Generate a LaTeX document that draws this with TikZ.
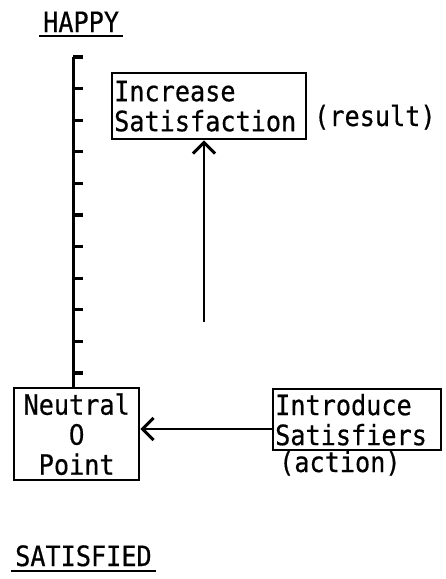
\documentclass[tikz,border=0pt]{standalone}
\usepackage{fontspec}
\newfontfamily\typer[FakeStretch=0.9, FakeBold=0.5]{DejaVu Sans Mono}
\newfontfamily\digit[FakeStretch=0.9, FakeBold=0.5]{DejaVu Sans}
\usetikzlibrary{arrows.meta,positioning}

\begin{document}
\begin{tikzpicture}[
    x=1pt, y=-1pt,
    every node/.style={font=\typer\fontsize{28}{30}\selectfont, inner sep=4pt},
    box/.style={draw, line width=2.4pt, inner xsep=2pt, inner ysep=1pt},
    lbl/.style={anchor=base west},
    uline/.style={line width=2pt},
    axis/.style={line width=3pt},
    tick/.style={line width=3.2pt},
    flow/.style={-{Straight Barb[length=11pt, width=22pt, line width=3pt]}, line width=2.6pt}
]
\useasboundingbox (0,0) rectangle (446,579);
\node[lbl] (happy) at (39,32) {HAPPY};
\node[box, anchor=north west, minimum width=194pt, minimum height=66pt, text width=190pt, align=left] (inc) at (111,72) {Increase\\Satisfaction};
\node[lbl] (res) at (310,126) {(result)};
\node[box, anchor=north west, minimum width=125pt, minimum height=92pt, text width=121pt, align=center] (neut) at (13,387) {Neutral\\{\digit 0}\\Point};
\node[box, anchor=north west, minimum width=168pt, minimum height=61pt, text width=164pt, align=left] (intro) at (272,388) {Introduce\\Satisfiers};
\node[lbl] (act) at (275,472) {(action)};
\node[lbl] (sat) at (11,566) {SATISFIED};
\coordinate (top) at (73,57);
\coordinate (rise) at (204,322);
\coordinate (push) at (272,429);
\draw[uline] (happy.south west) -- (happy.south east);
\draw[uline] (sat.south west) -- (sat.south east);
\draw[axis] (top) -- (top |- neut.north);
\foreach \k in {0,...,10}
    \draw[tick] ([yshift=-31.6*\k pt]top) -- ++(10,0);
\draw[flow] (rise) -- (rise |- inc.south);
\draw[flow] (push) -- (push -| neut.east);
\end{tikzpicture}
\end{document}
